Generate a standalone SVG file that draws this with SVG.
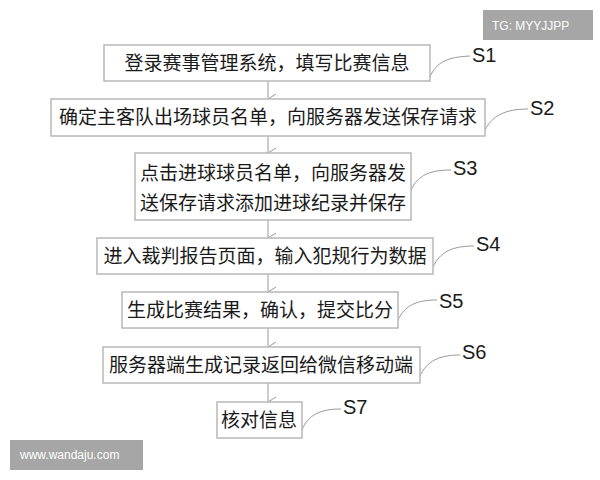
<svg xmlns="http://www.w3.org/2000/svg" width="600" height="480" viewBox="0 0 600 480">
<defs>
<style>
.b{fill:#fff;stroke:#b8b8b8;stroke-width:1.5}
.t{font-family:"Noto Sans CJK SC",sans-serif;font-size:19px;fill:#1a1a1a;text-anchor:middle}
.s{font-family:"Liberation Sans",Arial,sans-serif;font-size:20px;fill:#1a1a1a}
.l{fill:none;stroke:#999;stroke-width:1}
.a{fill:none;stroke:#999;stroke-width:1}
.w{font-family:"Liberation Sans",Arial,sans-serif;font-size:12px;fill:#fff}
</style>
<marker id="v" markerWidth="12" markerHeight="10" refX="6" refY="9" orient="auto-start-reverse" markerUnits="userSpaceOnUse" viewBox="0 0 12 10"><path d="M1,1 L6,9 L11,1" fill="none" stroke="#999" stroke-width="1"/></marker>
</defs>
<rect width="600" height="480" fill="#fff"/>
<g id="connectors">
<line class="a" x1="268" y1="81" x2="268" y2="99" marker-end="url(#v)"/>
<line class="a" x1="268" y1="136" x2="268" y2="153" marker-end="url(#v)"/>
<line class="a" x1="268" y1="220" x2="268" y2="238" marker-end="url(#v)"/>
<line class="a" x1="268" y1="274" x2="268" y2="292" marker-end="url(#v)"/>
<line class="a" x1="268" y1="328" x2="268" y2="347" marker-end="url(#v)"/>
<line class="a" x1="268" y1="383" x2="268" y2="402" marker-end="url(#v)"/>
<path class="l" d="M430,77 C436,62 448,57 470,56"/>
<path class="l" d="M485,130 C492,116 505,109 528,109"/>
<path class="l" d="M411,190 C418,175 430,170 451,170"/>
<path class="l" d="M433,267 C440,252 452,246 474,246"/>
<path class="l" d="M398,320 C405,305 417,300 437,300"/>
<path class="l" d="M420,376 C427,361 439,355 460,355"/>
<path class="l" d="M302,430 C308,415 320,409 341,409"/>
</g>
<g id="n1"><rect class="b" x="104" y="45" width="326" height="36"/><text class="t" x="267" y="70">登录赛事管理系统，填写比赛信息</text><text class="s" x="472" y="62">S1</text></g>
<g id="n2"><rect class="b" x="51" y="99" width="434" height="37"/><text class="t" x="268" y="124">确定主客队出场球员名单，向服务器发送保存请求</text><text class="s" x="530" y="115">S2</text></g>
<g id="n3"><rect class="b" x="135" y="153" width="276" height="67"/><text class="t" x="273" y="180">点击进球球员名单，向服务器发</text><text class="t" x="273" y="210">送保存请求添加进球纪录并保存</text><text class="s" x="453" y="175">S3</text></g>
<g id="n4"><rect class="b" x="97" y="238" width="336" height="36"/><text class="t" x="265" y="263">进入裁判报告页面，输入犯规行为数据</text><text class="s" x="476" y="251">S4</text></g>
<g id="n5"><rect class="b" x="122" y="292" width="276" height="36"/><text class="t" x="260" y="317">生成比赛结果，确认，提交比分</text><text class="s" x="439" y="308">S5</text></g>
<g id="n6"><rect class="b" x="103" y="347" width="317" height="36"/><text class="t" x="261" y="372">服务器端生成记录返回给微信移动端</text><text class="s" x="462" y="359">S6</text></g>
<g id="n7"><rect class="b" x="217" y="402" width="85" height="36"/><text class="t" x="259" y="427">核对信息</text><text class="s" x="343" y="414">S7</text></g>
<g id="wm"><rect x="483" y="10" width="110" height="30" fill="#a6a6a6"/><text class="w" x="492" y="30">TG: MYYJJPP</text>
<rect x="10" y="440" width="133" height="30" fill="#a6a6a6"/><text class="w" x="20" y="459">www.wandaju.com</text></g>
</svg>
